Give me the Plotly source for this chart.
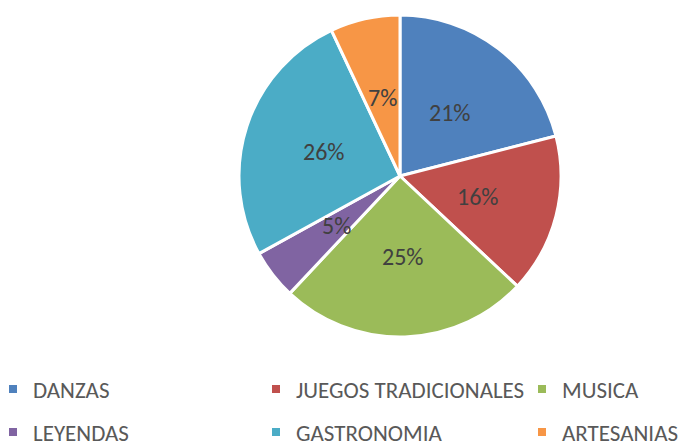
import math
import plotly.graph_objects as go

categories = ["DANZAS", "JUEGOS TRADICIONALES", "MUSICA", "LEYENDAS", "GASTRONOMIA", "ARTESANIAS"]
values = [21, 16, 25, 5, 26, 7]
colors = ["#4F81BD", "#C0504D", "#9BBB59", "#8064A2", "#4BACC6", "#F79646"]

W, H = 683, 441
cx, cy, r = 400, 176, 161
dom_x = [(cx - r) / W, (cx + r) / W]
dom_y = [1 - (cy + r) / H, 1 - (cy - r) / H]

FONT = "Carlito, Calibri, Lato, sans-serif"

fig = go.Figure()
fig.add_trace(go.Pie(
    labels=categories, values=values, sort=False, direction="clockwise", rotation=0,
    marker=dict(colors=colors, line=dict(color="white", width=3)),
    textinfo="none", hoverinfo="label+percent", showlegend=False,
    domain=dict(x=dom_x, y=dom_y),
))

# percentage labels at half radius along each slice's mid angle
total = sum(values)
cum = 0
annotations = []
for v in values:
    mid = (cum + v / 2) / total * 2 * math.pi
    cum += v
    px = cx + 0.5 * r * math.sin(mid)
    py = cy - 0.5 * r * math.cos(mid)
    annotations.append(dict(
        x=px / W, y=1 - py / H, xref="paper", yref="paper", showarrow=False,
        text=f"{round(v / total * 100)}%", font=dict(family=FONT, size=24, color="#404040"),
        xanchor="center", yanchor="middle",
    ))

# legend: 2 rows x 3 columns, one legend box per entry
leg_x = [-7, 256, 522]
leg_y = [389, 432]
layout_legends = {}
for i, (c, col) in enumerate(zip(categories, colors)):
    key = "legend" if i == 0 else f"legend{i + 1}"
    fig.add_trace(go.Scatter(
        x=[None], y=[None], mode="markers", name=c,
        marker=dict(symbol="square", size=8, color=col),
        legend=key, hoverinfo="skip",
    ))
    layout_legends[key] = dict(
        x=leg_x[i % 3] / W, y=1 - leg_y[i // 3] / H, xanchor="left", yanchor="middle",
        orientation="h", itemwidth=30, itemclick=False, itemdoubleclick=False,
        font=dict(family=FONT, size=23, color="#595959"), bgcolor="rgba(0,0,0,0)",
    )

fig.update_layout(
    width=W, height=H, margin=dict(l=0, r=0, t=0, b=0, autoexpand=False),
    paper_bgcolor="white", plot_bgcolor="white",
    xaxis=dict(visible=False), yaxis=dict(visible=False),
    annotations=annotations,
    **layout_legends,
)

fig.write_html("out.html", config={"displayModeBar": False},
               post_script="document.body.style.margin='0';")
